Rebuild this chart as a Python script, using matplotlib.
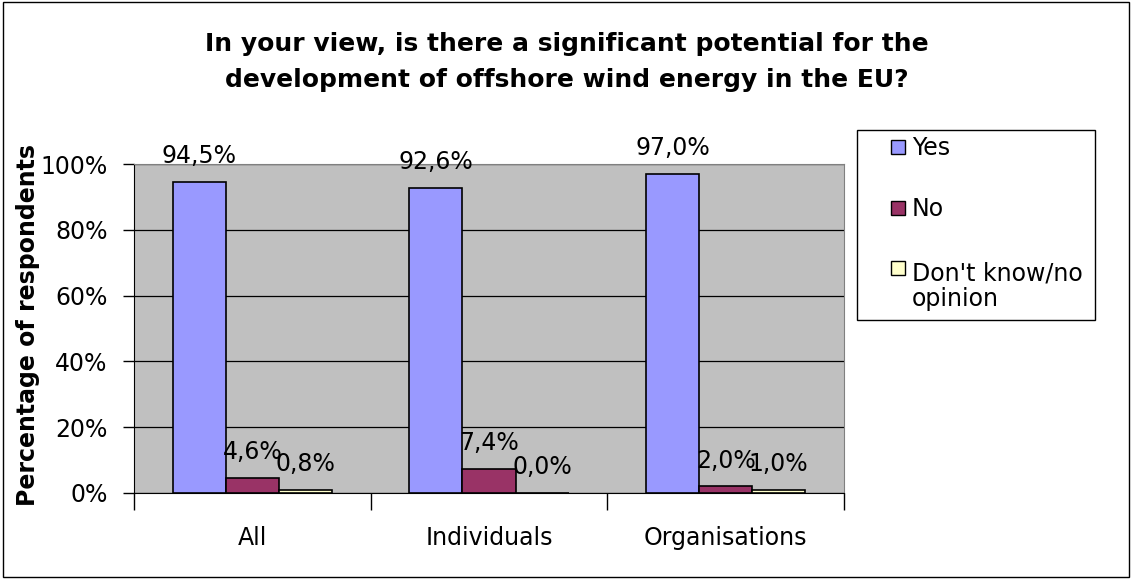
import matplotlib.pyplot as plt
from matplotlib.patches import Rectangle
from matplotlib.ticker import FuncFormatter
import numpy as np

plt.rcParams['font.family'] = ['DejaVu Sans']

groups = ["All", "Individuals", "Organisations"]
series = ["Yes", "No", "Don't know/no\nopinion"]
yes = [94.5, 92.6, 97.0]
no = [4.6, 7.4, 2.0]
dont_know = [0.8, 0.0, 1.0]
colors = ["#9999FF", "#993366", "#FFFFCC"]

W, H = 1135, 579
fig = plt.figure(figsize=(W / 100, H / 100), dpi=100)


def fx(px):
    return px / W


def fy(py):
    return 1 - py / H


# outer chart border
fig.patches.append(Rectangle((fx(3), fy(577)), fx(1129) - fx(3), fy(2) - fy(577),
                             transform=fig.transFigure, fill=False,
                             edgecolor="black", linewidth=1))

ax = fig.add_axes([fx(134), fy(493), fx(844) - fx(134), fy(164) - fy(493)])
ax.set_facecolor("#C0C0C0")

x = np.arange(len(groups))
width = 0.224
for i, (vals, col) in enumerate(zip([yes, no, dont_know], colors)):
    pos = x + (i - 1) * width
    ax.bar(pos, vals, width, color=col, edgecolor="black", linewidth=1.2,
           zorder=3)
    for xp, v in zip(pos, vals):
        ax.annotate("{:.1f}%".format(v).replace(".", ","), (xp, v),
                    xytext=(0, 10), textcoords="offset points",
                    ha="center", va="bottom", fontsize=17, zorder=4)

ax.set_xlim(-0.5, len(groups) - 0.5)
ax.set_ylim(0, 100)
ax.set_yticks(np.arange(0, 101, 20))
ax.yaxis.set_major_formatter(FuncFormatter(lambda v, p: "{:.0f}%".format(v)))
ax.yaxis.grid(True, color="black", linewidth=0.9)
ax.set_axisbelow(True)
ax.tick_params(axis="y", length=8, width=1, pad=11, labelsize=17)

# group boundaries as major ticks, names on minor ticks
ax.set_xticks(np.arange(-0.5, len(groups), 1.0))
ax.set_xticklabels([])
ax.set_xticks(x, minor=True)
ax.set_xticklabels(groups, minor=True)
ax.tick_params(axis="x", which="major", length=12, width=1)
ax.tick_params(axis="x", which="minor", length=0, pad=24, labelsize=17)

for s in ["top", "right"]:
    ax.spines[s].set_color("#808080")
for s in ["left", "bottom"]:
    ax.spines[s].set_color("black")

fig.text(fx(567), fy(62), "In your view, is there a significant potential for the\n"
         "development of offshore wind energy in the EU?",
         ha="center", va="center", fontsize=18, fontweight="bold",
         linespacing=1.6)
fig.text(fx(28), fy(325), "Percentage of respondents", rotation=90,
         ha="center", va="center", fontsize=17, fontweight="bold")

# legend box
fig.patches.append(Rectangle((fx(857), fy(320)), fx(1095) - fx(857), fy(130) - fy(320),
                             transform=fig.transFigure, facecolor="white",
                             edgecolor="black", linewidth=1))
for k, (name, col) in enumerate(zip(series, colors)):
    cy = 147 + 60.5 * k
    fig.patches.append(Rectangle((fx(891), fy(cy + 7)), fx(905) - fx(891), fy(cy - 7) - fy(cy + 7),
                                 transform=fig.transFigure, facecolor=col,
                                 edgecolor="black", linewidth=1))
    base = cy + 8 + 30 * name.count("\n")
    fig.text(fx(912), fy(base), name, ha="left", va="baseline",
             fontsize=17, linespacing=1.1)

fig.savefig("out.png", dpi=100)
